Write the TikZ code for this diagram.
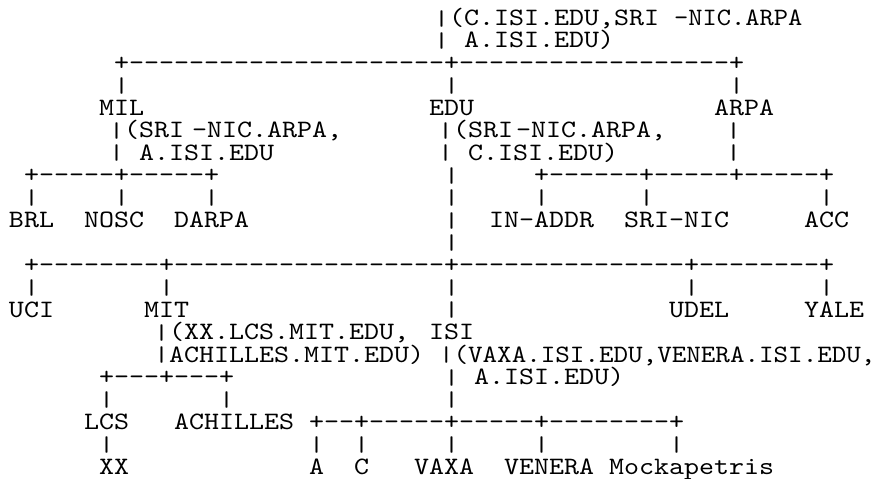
\documentclass[tikz,border=0pt]{standalone}
\usepackage{fontspec}
\setmonofont{lmmono10-regular.otf}[FakeStretch=1.1429]
\newcommand{\asciibar}{\raisebox{0.3pt}{\scalebox{1}[0.85]{|}}}
\tikzset{
  glyphrun/.style={anchor=base west, inner sep=0pt, outer sep=0pt,
    text height=16pt, text depth=1.5pt,
    font=\ttfamily\fontsize{25}{25}\selectfont, text=black},
}
% \putrun[dx]{name}{column}{row}{text}
\newcommand{\putrun}[5][0]{\node[glyphrun] (#2) at ({(15*#3-81+(#1))*1pt},{-(25.3+22.45*#4)*1pt}) {#5};}
\begin{document}
\begin{tikzpicture}
\useasboundingbox (0,0) rectangle (878pt,-479pt);
% row 0-1: root annotation
\putrun[-10]{annroota}{35}{0}{\asciibar(C.ISI.EDU,SRI}
\putrun[5]{annrootb}{50}{0}{\scalebox{0.95}[1]{-NIC.ARPA}}
\putrun[-10]{annrootbar}{35}{1}{\asciibar}
\putrun[-10]{annrootc}{37}{1}{A.ISI.EDU)}
% row 2-4: top level
\putrun{toprule}{13}{2}{+---------------------+------------------+}
\putrun{vmila}{13}{3}{\asciibar}
\putrun{vedua}{35}{3}{\asciibar}
\putrun{varpaa}{54}{3}{\asciibar}
\putrun{mil}{12}{4}{MIL}
\putrun{edu}{34}{4}{EDU}
\putrun{arpa}{53}{4}{ARPA}
% row 5-6: annotations
\putrun[-5]{annmila}{13}{5}{\asciibar(SRI}
\putrun[3]{annmilb}{18}{5}{-NIC.ARPA,}
\putrun[-6]{annedua}{35}{5}{\asciibar(SRI}
\putrun[-3]{annedub}{40}{5}{-NIC.ARPA,}
\putrun[-3]{varpab}{54}{5}{\asciibar}
\putrun[-5]{vmilb}{13}{6}{\asciibar}
\putrun[-5]{annmilc}{15}{6}{A.ISI.EDU}
\putrun[-6]{veduc}{35}{6}{\asciibar}
\putrun[-6]{anneduc}{37}{6}{C.ISI.EDU)}
\putrun[-3]{varpac}{54}{6}{\asciibar}
% row 7-9: MIL and ARPA children
\putrun{milrule}{7}{7}{+-----+-----+}
\putrun{vedud}{35}{7}{\asciibar}
\putrun{arparule}{41}{7}{+------+-----+-----+}
\putrun{vbrl}{7}{8}{\asciibar}
\putrun{vnosc}{13}{8}{\asciibar}
\putrun{vdarpa}{19}{8}{\asciibar}
\putrun{vedue}{35}{8}{\asciibar}
\putrun{vinaddr}{41}{8}{\asciibar}
\putrun{vsrinic}{48}{8}{\asciibar}
\putrun{vacc}{60}{8}{\asciibar}
\putrun{brl}{6}{9}{BRL}
\putrun{nosc}{11}{9}{NOSC}
\putrun{darpa}{17}{9}{DARPA}
\putrun{veduf}{35}{9}{\asciibar}
\putrun{inaddr}{38}{9}{IN-ADDR}
\putrun{srinic}{47}{9}{SRI-NIC}
\putrun{acc}{59}{9}{ACC}
\putrun{vedug}{35}{10}{\asciibar}
% row 11-13: EDU children
\putrun{edurule}{7}{11}{+--------+------------------+---------------+--------+}
\putrun{vuci}{7}{12}{\asciibar}
\putrun{vmit}{16}{12}{\asciibar}
\putrun{visia}{35}{12}{\asciibar}
\putrun{vudel}{51}{12}{\asciibar}
\putrun{vyale}{60}{12}{\asciibar}
\putrun{uci}{6}{13}{UCI}
\putrun{mit}{15}{13}{MIT}
\putrun{visib}{35}{13}{\asciibar}
\putrun{udel}{50}{13}{UDEL}
\putrun{yale}{59}{13}{YALE}
% row 14-16: MIT / ISI annotations
\putrun[-5]{annmita}{16}{14}{\asciibar(XX.LCS.MIT.EDU,}
\putrun{isi}{34}{14}{ISI}
\putrun[-5]{annmitb}{16}{15}{\asciibar ACHILLES.MIT.EDU)}
\putrun[-5]{annisia}{35}{15}{\scalebox{0.97}[1]{\asciibar(VAXA.ISI.EDU,VENERA.ISI.EDU,}}
\putrun{mitrule}{12}{16}{+---+---+}
\putrun{visic}{35}{16}{\asciibar}
\putrun{annisib}{37}{16}{A.ISI.EDU)}
\putrun{vlcs}{12}{17}{\asciibar}
\putrun{vachilles}{20}{17}{\asciibar}
\putrun{visid}{35}{17}{\asciibar}
% row 18-20: leaves
\putrun{lcs}{11}{18}{LCS}
\putrun{achilles}{17}{18}{ACHILLES}
\putrun{isirule}{26}{18}{+--+-----+-----+--------+}
\putrun{vxx}{12}{19}{\asciibar}
\putrun{va}{26}{19}{\asciibar}
\putrun{vc}{29}{19}{\asciibar}
\putrun{vvaxa}{35}{19}{\asciibar}
\putrun{vvenera}{41}{19}{\asciibar}
\putrun{vmock}{50}{19}{\asciibar}
\putrun{xx}{12}{20}{XX}
\putrun{hosta}{26}{20}{A}
\putrun{hostc}{29}{20}{C}
\putrun{vaxa}{33}{20}{VAXA}
\putrun{venera}{39}{20}{VENERA}
\putrun{mock}{46}{20}{Mockapetris}
\end{tikzpicture}
\end{document}
